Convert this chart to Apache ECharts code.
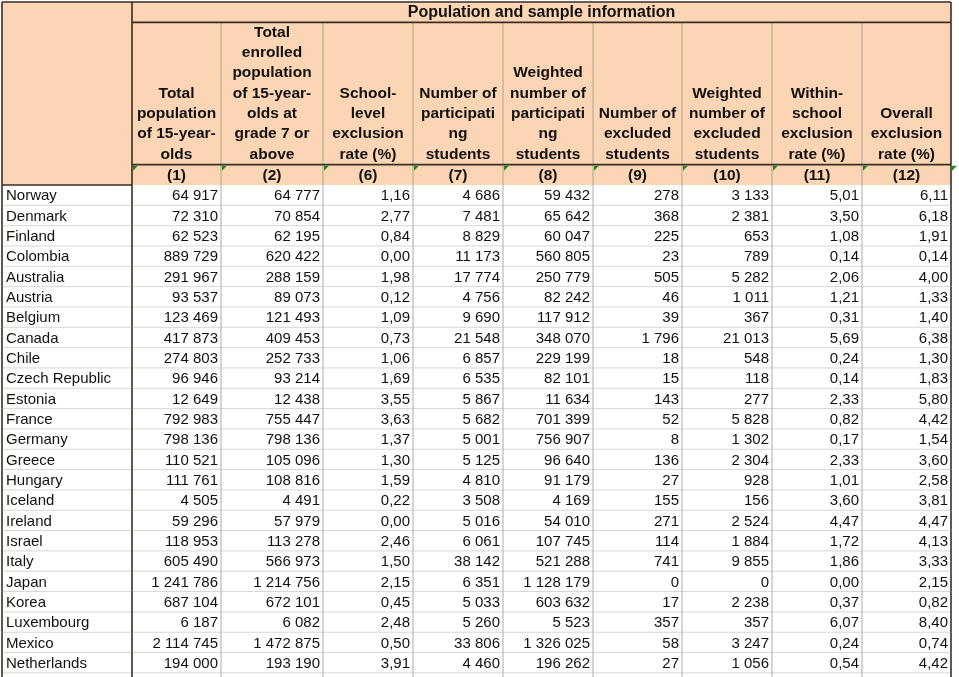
<!DOCTYPE html>
<html>
<head>
<meta charset="utf-8">
<title>Population and sample information</title>
<script src="https://cdn.jsdelivr.net/npm/echarts@6/dist/echarts.min.js"></script>
<style>
html, body { margin: 0; padding: 0; background: #fff; }
#chart { width: 959px; height: 677px; }
</style>
</head>
<body>
<div id="chart"></div>
<script>
var countries = ["Norway", "Denmark", "Finland", "Colombia", "Australia", "Austria", "Belgium", "Canada", "Chile",
    "Czech Republic", "Estonia", "France", "Germany", "Greece", "Hungary", "Iceland", "Ireland", "Israel", "Italy",
    "Japan", "Korea", "Luxembourg", "Mexico", "Netherlands"];
// (1) total population of 15-year-olds
var totalPop = [64917, 72310, 62523, 889729, 291967, 93537, 123469, 417873, 274803, 96946, 12649, 792983, 798136,
    110521, 111761, 4505, 59296, 118953, 605490, 1241786, 687104, 6187, 2114745, 194000];
// (2) enrolled at grade 7 or above
var enrolledPop = [64777, 70854, 62195, 620422, 288159, 89073, 121493, 409453, 252733, 93214, 12438, 755447, 798136,
    105096, 108816, 4491, 57979, 113278, 566973, 1214756, 672101, 6082, 1472875, 193190];
// (6) school-level exclusion rate
var schoolExcl = [1.16, 2.77, 0.84, 0.00, 1.98, 0.12, 1.09, 0.73, 1.06, 1.69, 3.55, 3.63, 1.37, 1.30, 1.59, 0.22,
    0.00, 2.46, 1.50, 2.15, 0.45, 2.48, 0.50, 3.91];
// (7) participating students
var participating = [4686, 7481, 8829, 11173, 17774, 4756, 9690, 21548, 6857, 6535, 5867, 5682, 5001, 5125, 4810,
    3508, 5016, 6061, 38142, 6351, 5033, 5260, 33806, 4460];
// (8) weighted participating students
var weightedPart = [59432, 65642, 60047, 560805, 250779, 82242, 117912, 348070, 229199, 82101, 11634, 701399, 756907,
    96640, 91179, 4169, 54010, 107745, 521288, 1128179, 603632, 5523, 1326025, 196262];
// (9) excluded students
var excluded = [278, 368, 225, 23, 505, 46, 39, 1796, 18, 15, 143, 52, 8, 136, 27, 155, 271, 114, 741, 0, 17, 357,
    58, 27];
// (10) weighted excluded students
var weightedExcl = [3133, 2381, 653, 789, 5282, 1011, 367, 21013, 548, 118, 277, 5828, 1302, 2304, 928, 156, 2524,
    1884, 9855, 0, 2238, 357, 3247, 1056];
// (11) within-school exclusion rate
var withinExcl = [5.01, 3.50, 1.08, 0.14, 2.06, 1.21, 0.31, 5.69, 0.24, 0.14, 2.33, 0.82, 0.17, 2.33, 1.01, 3.60,
    4.47, 1.72, 1.86, 0.00, 0.37, 6.07, 0.24, 0.54];
// (12) overall exclusion rate
var overallExcl = [6.11, 6.18, 1.91, 0.14, 4.00, 1.33, 1.40, 6.38, 1.30, 1.83, 5.80, 4.42, 1.54, 3.60, 2.58, 3.81,
    4.47, 4.13, 3.33, 2.15, 0.82, 8.40, 0.74, 4.42];

var groupTitle = "Population and sample information";
var colCodes = ["(1)", "(2)", "(6)", "(7)", "(8)", "(9)", "(10)", "(11)", "(12)"];
var colHeaders = [
    ["Total", "population", "of 15-year-", "olds"],
    ["Total", "enrolled", "population", "of 15-year-", "olds at", "grade 7 or", "above"],
    ["School-", "level", "exclusion", "rate (%)"],
    ["Number of", "participati", "ng", "students"],
    ["Weighted", "number of", "participati", "ng", "students"],
    ["Number of", "excluded", "students"],
    ["Weighted", "number of", "excluded", "students"],
    ["Within-", "school", "exclusion", "rate (%)"],
    ["Overall", "exclusion", "rate (%)"]
];
var columns = [totalPop, enrolledPop, schoolExcl, participating, weightedPart, excluded, weightedExcl, withinExcl, overallExcl];
var isRate = [false, false, true, false, false, false, false, true, true];

// layout
var COL_WIDTHS = [130, 89, 102, 90, 90, 90, 89, 90, 90, 89];
var ROW_H = 20.33;
var HEAD_ROWS = 9;
var TOTAL_ROWS = 34;
var GRID_H = 675;
var FONT = "'Liberation Sans', Arial, Helvetica, sans-serif";
var PEACH = "#fcd5b4";
var DARK = "#3b2c24";
var GRAY_HEAD = "#b0a293";
var GRAY_V = "#ababab";
var GRAY_H = "#d6d6d6";
var GREEN = "#1d8a1d";

function fmt_int(v) {
    return String(v).replace(/\B(?=(\d{3})+(?!\d))/g, " ");
}

function fmt_rate(v) {
    return v.toFixed(2).replace(".", ",");
}

var edges = [0];
for (var i = 0; i < COL_WIDTHS.length; i++) edges.push(edges[i] + COL_WIDTHS[i]);
var lastCol = COL_WIDTHS.length - 1;

// build cells: value = [x0, x1, row0, row1]
var cells = [];
function add_cell(c0, c1, r0, r1, kind, text, col) {
    cells.push({value: [edges[c0], edges[c1], r0, r1], kind: kind, text: text, col: col});
}

add_cell(0, 1, 0, HEAD_ROWS, "corner", "", 0);
add_cell(1, lastCol + 1, 0, 1, "group", groupTitle, 1);
for (i = 0; i < colHeaders.length; i++) {
    add_cell(i + 1, i + 2, 1, HEAD_ROWS - 1, "head", colHeaders[i].join("\n"), i + 1);
    add_cell(i + 1, i + 2, HEAD_ROWS - 1, HEAD_ROWS, "code", colCodes[i], i + 1);
}
for (var r = 0; r < TOTAL_ROWS - HEAD_ROWS; r++) {
    var row = HEAD_ROWS + r;
    add_cell(0, 1, row, row + 1, "name", r < countries.length ? countries[r] : "", 0);
    for (var j = 0; j < columns.length; j++) {
        var t = "";
        if (r < countries.length) t = isRate[j] ? fmt_rate(columns[j][r]) : fmt_int(columns[j][r]);
        add_cell(j + 1, j + 2, row, row + 1, "cell", t, j + 1);
    }
}

function line(x0, y0, x1, y1, color, w, z) {
    return {type: "line", shape: {x1: x0, y1: y0, x2: x1, y2: y1}, style: {stroke: color, lineWidth: w}, z2: z};
}

function render_cell(params, api) {
    var c = cells[params.dataIndex];
    var p0 = api.coord([api.value(0), api.value(2)]);
    var p1 = api.coord([api.value(1), api.value(3)]);
    var x0 = p0[0], y0 = p0[1], x1 = p1[0], y1 = p1[1];
    var kids = [];
    var isLast = c.col == lastCol;
    var vColor = isLast ? DARK : GRAY_V;
    var vWidth = isLast ? 1.6 : 1;
    switch (c.kind) {
        case "corner":
            kids.push({type: "rect", shape: {x: x0, y: y0, width: x1 - x0, height: y1 - y0}, style: {fill: PEACH}, z2: 0});
            kids.push(line(x0, y0, x1, y0, DARK, 1.6, 10));
            kids.push(line(x0, y0, x0, y1, DARK, 1.6, 10));
            kids.push(line(x1, y0, x1, y1, DARK, 1.6, 10));
            kids.push(line(x0, y1, x1, y1, DARK, 1.4, 10));
            break;
        case "group":
            kids.push({type: "rect", shape: {x: x0, y: y0, width: x1 - x0, height: y1 - y0}, style: {fill: PEACH}, z2: 0});
            kids.push(line(x0, y0, x1, y0, DARK, 1.6, 10));
            kids.push(line(x0, y1, x1, y1, DARK, 1.6, 10));
            kids.push(line(x1, y0, x1, y1, DARK, 1.6, 10));
            kids.push({type: "text", z2: 20, style: {text: c.text, x: (x0 + x1) / 2, y: (y0 + y1) / 2, align: "center",
                verticalAlign: "middle", font: "bold 16px " + FONT, fill: "#111"}});
            break;
        case "head":
            kids.push({type: "rect", shape: {x: x0, y: y0, width: x1 - x0, height: y1 - y0}, style: {fill: PEACH}, z2: 0});
            kids.push(line(x1, y0, x1, y1, isLast ? DARK : GRAY_HEAD, vWidth, isLast ? 10 : 5));
            kids.push(line(x0, y1, x1, y1, DARK, 1.8, 10));
            kids.push({type: "text", z2: 20, style: {text: c.text, x: (x0 + x1) / 2, y: y1, align: "center",
                verticalAlign: "bottom", lineHeight: ROW_H, font: "bold 15.5px " + FONT, fill: "#111"}});
            break;
        case "code":
            kids.push({type: "rect", shape: {x: x0, y: y0, width: x1 - x0, height: y1 - y0}, style: {fill: PEACH}, z2: 0});
            kids.push(line(x1, y0, x1, y1, isLast ? DARK : GRAY_HEAD, vWidth, isLast ? 10 : 5));
            kids.push({type: "polygon", shape: {points: [[x0 + 1, y0 + 1], [x0 + 6, y0 + 1], [x0 + 1, y0 + 6]]},
                style: {fill: GREEN}, z2: 15});
            if (isLast) {
                kids.push({type: "polygon", shape: {points: [[x1 + 1, y0 + 1], [x1 + 6, y0 + 1], [x1 + 1, y0 + 6]]},
                    style: {fill: GREEN}, z2: 15});
            }
            kids.push({type: "text", z2: 20, style: {text: c.text, x: (x0 + x1) / 2, y: (y0 + y1) / 2 + 1, align: "center",
                verticalAlign: "middle", font: "bold 15.5px " + FONT, fill: "#111"}});
            break;
        case "name":
            kids.push(line(x0, y0, x0, y1, DARK, 1.6, 10));
            kids.push(line(x1, y0, x1, y1, DARK, 1.6, 10));
            kids.push(line(x0, y1, x1, y1, GRAY_H, 1, 3));
            kids.push({type: "text", z2: 20, style: {text: c.text, x: x0 + 4, y: (y0 + y1) / 2 + 1, align: "left",
                verticalAlign: "middle", font: "15px " + FONT, fill: "#111"}});
            break;
        default:
            kids.push(line(x1, y0, x1, y1, vColor, vWidth, isLast ? 10 : 5));
            kids.push(line(x0, y1, x1, y1, GRAY_H, 1, 3));
            kids.push({type: "text", z2: 20, style: {text: c.text, x: x1 - 3, y: (y0 + y1) / 2 + 1, align: "right",
                verticalAlign: "middle", font: "15px " + FONT, fill: "#111"}});
    }
    return {type: "group", children: kids};
}

var chart = echarts.init(document.getElementById("chart"), null, {renderer: "canvas"});
chart.setOption({
    backgroundColor: "#ffffff",
    animation: false,
    grid: {left: 2, top: 2, width: edges[edges.length - 1], height: GRID_H},
    xAxis: {type: "value", min: 0, max: edges[edges.length - 1], show: false},
    yAxis: {type: "value", min: 0, max: GRID_H / ROW_H, inverse: true, show: false},
    series: [{
        type: "custom",
        renderItem: render_cell,
        clip: false,
        encode: {x: [0, 1], y: [2, 3]},
        data: cells.map(function (c) { return c.value; })
    }]
});
</script>
</body>
</html>
